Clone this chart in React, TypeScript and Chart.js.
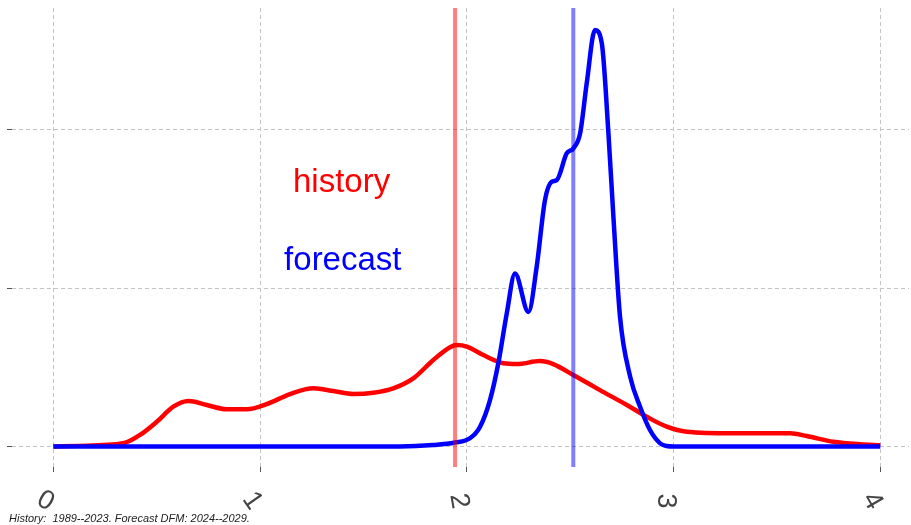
import React, { useEffect, useRef } from "react";
import { Chart, registerables } from "chart.js";

Chart.register(...registerables);

// ---- Data ----
const historyX = [0, 0.119, 0.337, 0.419, 0.5, 0.58, 0.653, 0.742, 0.838, 0.935, 1.032, 1.145, 1.257, 1.354, 1.451, 1.548, 1.644, 1.741, 1.838, 1.919, 1.951, 2.0, 2.08, 2.177, 2.241, 2.354, 2.418, 2.515, 2.644, 2.774, 2.87, 2.967, 3.064, 3.289, 3.564, 3.644, 3.773, 3.902, 4.0];
const historyY = [0, 0.004, 0.02, 0.073, 0.156, 0.251, 0.287, 0.262, 0.235, 0.235, 0.268, 0.331, 0.367, 0.35, 0.331, 0.339, 0.367, 0.43, 0.546, 0.626, 0.64, 0.63, 0.577, 0.525, 0.52, 0.539, 0.52, 0.451, 0.356, 0.262, 0.188, 0.125, 0.093, 0.083, 0.083, 0.066, 0.03, 0.014, 0.008];

const forecastX = [0, 1.0, 1.677, 1.837, 1.943, 2.015, 2.064, 2.112, 2.152, 2.193, 2.233, 2.298, 2.338, 2.378, 2.411, 2.435, 2.483, 2.515, 2.548, 2.58, 2.62, 2.653, 2.685, 2.709, 2.741, 2.79, 2.838, 2.886, 2.935, 2.967, 3.0, 4.0];
const forecastY = [0, 0, 0.0, 0.009, 0.025, 0.052, 0.125, 0.293, 0.524, 0.839, 1.091, 0.849, 1.135, 1.555, 1.671, 1.681, 1.849, 1.881, 1.976, 2.293, 2.628, 2.544, 1.976, 1.45, 0.819, 0.441, 0.251, 0.104, 0.02, 0.003, 0, 0];

const historyMean = 1.943;
const forecastMean = 2.515;

const xTickValues = [0, 1, 2, 3, 4];
const xTickLabels = ["0", "1", "2", "3", "4"];
const xTickAngles = [30, 55, 80, 90, 60];
const yTickValues = [0, 1, 2];

const xMin = -0.2003;
const xMax = 4.139;
const yMin = -0.1293;
const yMax = 2.767;

const caption = "History:  1989--2023. Forecast DFM: 2024--2029.";

const pts = (xs: number[], ys: number[]) => xs.map((x, i) => ({ x, y: ys[i] }));

const labelsPlugin = {
  id: "customLabels",
  afterDraw(chart: any) {
    const ctx = chart.ctx;
    const xs = chart.scales.x;
    const ys = chart.scales.y;
    ctx.save();
    // tick labels
    ctx.fillStyle = "#444444";
    ctx.font = "27px 'Liberation Sans', Arial, sans-serif";
    ctx.textAlign = "center";
    ctx.textBaseline = "middle";
    xTickValues.forEach((v, i) => {
      const px = xs.getPixelForValue(v) - 8;
      const py = chart.chartArea.bottom + 34;
      ctx.save();
      ctx.translate(px, py);
      ctx.rotate((xTickAngles[i] * Math.PI) / 180);
      ctx.fillText(xTickLabels[i], 0, 0);
      ctx.restore();
    });
    // annotations
    ctx.textBaseline = "alphabetic";
    ctx.font = "33px 'Liberation Sans', Arial, sans-serif";
    ctx.fillStyle = "#ff0000";
    ctx.fillText("history", xs.getPixelForValue(1.394), ys.getPixelForValue(1.607));
    ctx.fillStyle = "#0000ff";
    ctx.fillText("forecast", xs.getPixelForValue(1.4), ys.getPixelForValue(1.113));
    // caption
    ctx.fillStyle = "#222222";
    ctx.textAlign = "left";
    ctx.font = "italic 11px 'Liberation Sans', Arial, sans-serif";
    ctx.fillText(caption, 9, 522);
    ctx.restore();
  },
};

export default function App() {
  const ref = useRef<HTMLCanvasElement | null>(null);
  useEffect(() => {
    if (!ref.current) return;
    const chart = new Chart(ref.current, {
      type: "line",
      data: {
        datasets: [
          {
            label: "history mean",
            data: [
              { x: historyMean, y: yMin },
              { x: historyMean, y: yMax },
            ],
            borderColor: "rgba(255,0,0,0.5)",
            borderWidth: 4,
            pointRadius: 0,
            tension: 0,
          },
          {
            label: "forecast mean",
            data: [
              { x: forecastMean, y: yMin },
              { x: forecastMean, y: yMax },
            ],
            borderColor: "rgba(0,0,255,0.5)",
            borderWidth: 4,
            pointRadius: 0,
            tension: 0,
          },
          {
            label: "forecast",
            data: pts(forecastX, forecastY),
            borderColor: "#0000ff",
            borderWidth: 4.5,
            pointRadius: 0,
            cubicInterpolationMode: "monotone",
          },
          {
            label: "history",
            data: pts(historyX, historyY),
            borderColor: "#ff0000",
            borderWidth: 4.5,
            pointRadius: 0,
            cubicInterpolationMode: "monotone",
          },
        ],
      },
      options: {
        responsive: false,
        animation: false,
        layout: { padding: { left: 7, top: 8, right: 2, bottom: 53 } },
        plugins: { legend: { display: false }, tooltip: { enabled: false } },
        scales: {
          x: {
            type: "linear",
            min: xMin,
            max: xMax,
            afterBuildTicks: (s: any) => {
              s.ticks = xTickValues.map((v) => ({ value: v }));
            },
            ticks: { display: false },
            grid: {
              color: "#c4c4c4",
              lineWidth: 1,
              drawTicks: true,
              tickLength: 5,
              tickColor: "#555555",
              tickWidth: 1,
            },
            border: { display: false, dash: [4, 3] },
          },
          y: {
            type: "linear",
            min: yMin,
            max: yMax,
            afterBuildTicks: (s: any) => {
              s.ticks = yTickValues.map((v) => ({ value: v }));
            },
            ticks: { display: false },
            grid: {
              color: "#c4c4c4",
              lineWidth: 1,
              drawTicks: true,
              tickLength: 5,
              tickColor: "#555555",
              tickWidth: 1,
            },
            border: { display: false, dash: [4, 3] },
          },
        },
      },
      plugins: [labelsPlugin],
    } as any);
    return () => chart.destroy();
  }, []);
  return (
    <div style={{ position: "fixed", left: 0, top: 0, width: 911, height: 525, background: "#fff" }}>
      <canvas ref={ref} width={911} height={525} style={{ display: "block" }} />
    </div>
  );
}
